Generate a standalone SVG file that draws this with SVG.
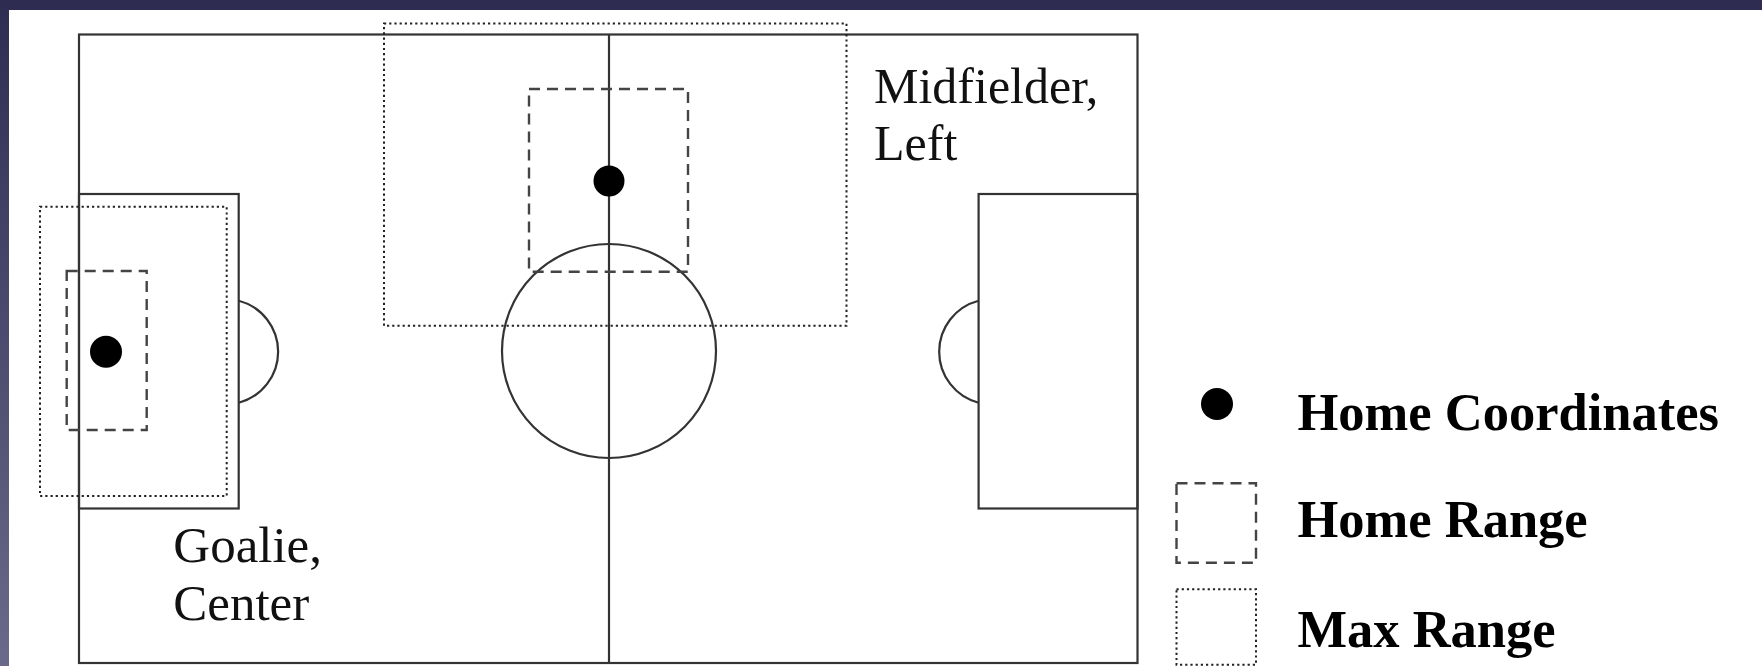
<svg xmlns="http://www.w3.org/2000/svg" width="1762" height="666" viewBox="0 0 1762 666">
  <defs>
    <linearGradient id="leftband" x1="0" y1="0" x2="0" y2="1">
      <stop offset="0" stop-color="#2e2c50"/>
      <stop offset="1" stop-color="#6b6a8a"/>
    </linearGradient>
  </defs>
  <style>
    .line { fill: none; stroke: #333; stroke-width: 2.2; }
    .home { fill: none; stroke: #444; stroke-width: 2.4; stroke-dasharray: 11 7; }
    .max { fill: none; stroke: #222; stroke-width: 2; stroke-dasharray: 2.2 3; }
    .dot { fill: #000; }
    .label { font-family: "Liberation Serif", "Times New Roman", serif; fill: #111; }
    .legend { font-family: "Liberation Serif", "Times New Roman", serif; font-weight: bold; font-size: 52.5px; fill: #000; }
  </style>

  <rect x="0" y="0" width="1762" height="666" fill="#ffffff"/>
  <rect x="0" y="0" width="1762" height="10" fill="#2e2c50"/>
  <rect x="0" y="0" width="9" height="666" fill="url(#leftband)"/>

  <g id="field">
    <rect class="line" x="79" y="34.5" width="1058.5" height="628.5"/>
    <line class="line" x1="609" y1="34.5" x2="609" y2="663"/>
    <circle class="line" cx="609" cy="351" r="107"/>
    <rect class="line" x="79" y="194" width="159.7" height="314.5"/>
    <rect class="line" x="978.6" y="194" width="158.9" height="314.5"/>
    <path class="line" d="M238.7 300.7 A52.7 52.7 0 0 1 238.7 402.7"/>
    <path class="line" d="M978.6 300.7 A52.7 52.7 0 0 0 978.6 402.7"/>
  </g>

  <g id="goalie">
    <rect class="max" x="40" y="206.7" width="186.7" height="289.3"/>
    <rect class="home" x="66.7" y="271" width="80" height="159"/>
    <circle class="dot" cx="106" cy="351.7" r="16"/>
    <text class="label" font-size="51" x="173.3" y="562">Goalie,</text>
    <text class="label" font-size="51" x="173.3" y="620">Center</text>
  </g>

  <g id="midfielder">
    <rect class="max" x="384" y="23.5" width="462.5" height="302.2"/>
    <rect class="home" x="529" y="89" width="159" height="182.7"/>
    <circle class="dot" cx="609" cy="181" r="15.5"/>
    <text class="label" font-size="50" x="874" y="103">Midfielder,</text>
    <text class="label" font-size="50" x="874" y="160">Left</text>
  </g>

  <g id="legend">
    <circle class="dot" cx="1217" cy="404" r="16"/>
    <text class="legend" x="1297.5" y="430">Home Coordinates</text>
    <rect class="home" x="1176.5" y="483.3" width="79.5" height="79.4"/>
    <text class="legend" x="1297.5" y="537">Home Range</text>
    <rect class="max" x="1176.5" y="589.3" width="79.5" height="75.5"/>
    <text class="legend" x="1297.5" y="647">Max Range</text>
  </g>

  <g id="connectors"></g>
</svg>
